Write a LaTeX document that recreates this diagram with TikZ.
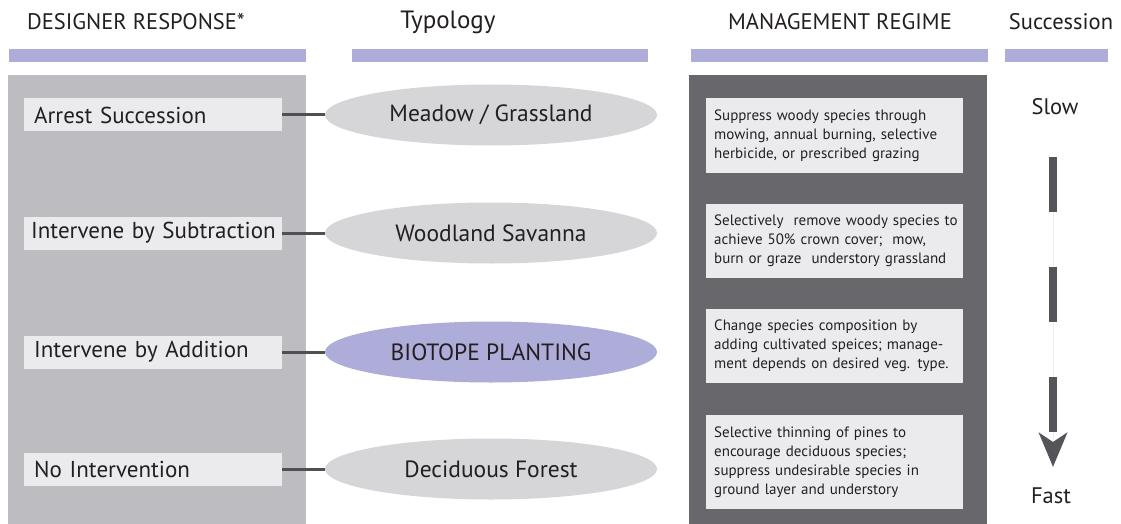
\documentclass[tikz,border=0pt]{standalone}
\usepackage{fontspec}
\setmainfont{PT Sans}
\usetikzlibrary{shapes.geometric,arrows.meta}
\definecolor{ink}{HTML}{231F20}
\definecolor{lav}{HTML}{AEACD8}
\definecolor{panelL}{HTML}{BDBCC1}
\definecolor{panelD}{HTML}{68676C}
\definecolor{boxL}{HTML}{EBEBED}
\definecolor{ellG}{HTML}{D6D6D8}
\definecolor{connC}{HTML}{505052}
\definecolor{dashC}{HTML}{555459}
\newcommand{\oneline}[1]{\mbox{#1}}
\tikzset{
  head/.style={font=\fontsize{22.5}{26}\selectfont, text=ink, inner sep=0pt},
  bar/.style={fill=lav},
  respbox/.style={fill=boxL, anchor=west, minimum width=258pt, minimum height=33pt,
    text width=238pt, inner xsep=10pt, inner ysep=0pt, align=left,
    font=\fontsize{23}{27}\selectfont, text=ink},
  typo/.style={ellipse, fill=ellG, minimum width=332pt, minimum height=61pt, inner sep=0pt,
    font=\fontsize{23.5}{27}\selectfont, text=ink},
  regbox/.style={fill=boxL, anchor=north west, minimum width=257pt,
    text width=241pt, inner xsep=8pt, inner ysep=0pt, align=left,
    font=\fontsize{15}{19}\selectfont, text=ink},
  link/.style={draw=connC, line width=3pt},
  succ/.style={font=\fontsize{22.5}{26}\selectfont, text=ink, inner sep=0pt}
}
\begin{document}
\begin{tikzpicture}[x=1pt,y=-1pt]
\useasboundingbox[fill=white] (0,0) rectangle (1121,524);

% column headings
\node[head, anchor=west] (h1) at (27,22) {DESIGNER RESPONSE*};
\node[head, font=\fontsize{25}{28}\selectfont] (h2) at (448,22) {Typology};
\node[head] (h3) at (840,22) {MANAGEMENT REGIME};
\node[head] (h4) at (1061,22) {Succession};
\fill[bar] (9,49) rectangle (306,62);
\fill[bar] (352,49) rectangle (648,62);
\fill[bar] (691,49) rectangle (988,62);
\fill[bar] (1005,49) rectangle (1108,62);

% designer response column
\fill[panelL] (8,75) rectangle (306,524);
\node[respbox] (r1) at (24,115) {\oneline{Arrest Succession}};
\node[respbox] (r2) at (24,233) {\hspace*{-3pt}\oneline{Intervene by Subtraction}};
\node[respbox] (r3) at (24,352) {\oneline{Intervene by Addition}};
\node[respbox] (r4) at (24,469) {\oneline{No Intervention}};

% typology ellipses
\node[typo] (t1) at (491,115) {Meadow / Grassland};
\node[typo] (t2) at (491,233) {Woodland Savanna};
\node[typo, fill=lav] (t3) at (491,352) {BIOTOPE PLANTING};
\node[typo] (t4) at (491,469) {Deciduous Forest};

\draw[link] (r1.east) -- (t1.west);
\draw[link] (r2.east) -- (t2.west);
\draw[link] (r3.east) -- (t3.west);
\draw[link] (r4.east) -- (t4.west);

% management regime column
\fill[panelD] (689,75) rectangle (987,524);
\node[regbox, minimum height=75pt] (m1) at (706,98)
  {\oneline{Suppress woody species through}\\\oneline{mowing, annual burning, selective}\\\oneline{herbicide, or prescribed grazing}};
\node[regbox, minimum height=74pt] (m2) at (706,204)
  {\oneline{Selectively\ \ remove woody species to}\\\oneline{achieve 50\% crown cover;\ \ mow,}\\\oneline{burn or graze\ \ understory grassland}};
\node[regbox, minimum height=74pt] (m3) at (706,309)
  {\oneline{Change species composition by}\\\oneline{adding cultivated speices; manage-}\\\oneline{ment depends on desired veg. type.}};
\node[regbox, minimum height=94pt] (m4) at (706,415)
  {\oneline{Selective thinning of pines to}\\\oneline{encourage deciduous species;}\\\oneline{suppress undesirable species in}\\\oneline{ground layer and understory}};

% succession speed arrow
\node[succ] (slow) at (1055,107) {Slow};
\node[succ] (fast) at (1051,496) {Fast};
\coordinate (a0) at (1053,157);
\coordinate (a1) at (1053,467);
\draw[gray!12, line width=1pt] (a0) -- (a1);
\draw[dashC, line width=8pt, dash pattern=on 55pt off 55pt,
  -{Stealth[length=34pt, width=28pt, inset=9pt]}] (a0) -- (a1);
\end{tikzpicture}
\end{document}
